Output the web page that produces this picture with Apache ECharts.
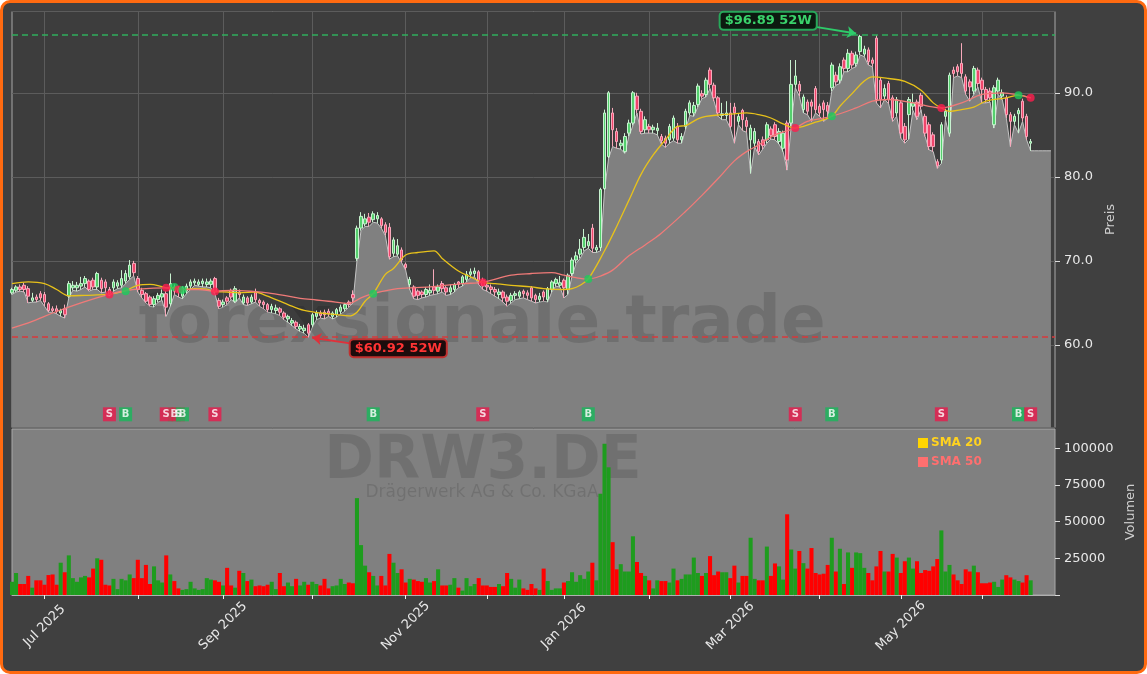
<!DOCTYPE html>
<html>
<head>
<meta charset="utf-8">
<title>DRW3.DE</title>
<script src="https://cdn.jsdelivr.net/npm/echarts@6/dist/echarts.min.js"></script>
<style>
  html, body { margin: 0; padding: 0; background: #ffffff; }
  #frame {
    position: absolute; left: 0; top: 0; width: 1147px; height: 674px;
    box-sizing: border-box; border: 3px solid #ff6a10; border-radius: 10px;
    background: #404040;
  }
  #chart { position: absolute; left: 0; top: 0; width: 1147px; height: 674px; }
</style>
</head>
<body>
<div id="frame"></div>
<div id="chart"></div>
<script>
// trading calendar (Xetra), first bar 19 Jun 2025
const firstDay = "2025-06-19";
const dayCount = 258;
const holidays = ["2025-12-24", "2025-12-25", "2025-12-26", "2025-12-31", "2026-01-01", "2026-04-03", "2026-04-06", "2026-05-01"];
const MONTHS = ["Jan", "Feb", "Mar", "Apr", "May", "Jun", "Jul", "Aug", "Sep", "Oct", "Nov", "Dec"];

const opens = [
  66.2, 66.5, 66.9, 67.1, 66.7, 65.3, 65.7, 66.1, 66.0, 64.9,
  64.3, 64.3, 63.8, 64.3, 65.8, 66.8, 66.8, 67.0, 67.3, 67.6,
  67.7, 66.9, 67.7, 67.5, 66.6, 66.8, 67.0, 67.1, 67.6, 68.1,
  69.7, 67.9, 66.5, 66.1, 65.7, 64.8, 65.4, 65.7, 66.1, 64.9,
  66.9, 66.7, 65.8, 66.4, 67.0, 67.4, 67.2, 67.3, 67.2, 67.2,
  67.9, 65.3, 64.8, 65.6, 66.5, 65.2, 66.3, 65.0, 65.6, 65.1,
  66.3, 65.3, 65.1, 64.8, 64.2, 64.1, 64.3, 63.8, 63.1, 62.6,
  62.7, 61.9, 61.7, 62.4, 62.4, 63.4, 63.8, 63.9, 64.0, 63.4,
  63.6, 64.0, 64.3, 65.1, 66.0, 70.3, 73.9, 74.4, 75.2, 74.9,
  75.0, 75.0, 74.3, 74.0, 70.9, 70.8, 71.3, 69.6, 67.2, 66.9,
  66.4, 66.3, 66.0, 66.2, 66.9, 66.4, 67.3, 66.8, 66.3, 66.6,
  67.5, 67.3, 67.8, 68.4, 68.5, 68.7, 67.7, 67.1, 66.9, 66.6,
  66.0, 66.3, 65.7, 65.3, 65.9, 65.8, 66.4, 66.2, 66.8, 65.9,
  65.4, 66.3, 65.4, 66.6, 67.3, 67.1, 67.7, 66.6, 68.5, 70.1,
  70.8, 71.6, 71.8, 73.9, 71.3, 71.6, 78.6, 82.4, 87.6, 85.4,
  83.7, 83.0, 85.2, 86.4, 89.6, 87.8, 85.6, 86.0, 85.6, 85.5,
  84.8, 84.6, 84.4, 84.6, 86.0, 84.4, 86.0, 87.6, 87.6, 88.6,
  89.9, 89.8, 92.7, 90.9, 89.4, 87.3, 87.3, 87.6, 88.3, 86.6,
  87.9, 86.7, 84.4, 84.0, 84.2, 84.4, 84.4, 85.7, 86.2, 84.2,
  83.4, 86.4, 86.4, 91.0, 91.0, 88.0, 88.9, 88.9, 90.5, 88.4,
  88.8, 88.5, 90.6, 92.1, 91.5, 93.9, 92.9, 94.7, 93.5, 94.9,
  94.6, 95.1, 93.9, 96.5, 91.5, 89.6, 91.1, 89.4, 87.6, 88.8,
  86.0, 87.4, 88.4, 88.9, 89.7, 87.2, 86.2, 85.0, 81.8, 82.0,
  87.2, 85.2, 92.7, 93.1, 93.5, 91.9, 91.3, 90.2, 92.7, 91.5,
  90.4, 90.2, 86.2, 90.2, 89.6, 89.4, 87.4, 86.6, 87.5, 89.0,
  87.2, 84.0
];
const closes = [
  66.6, 66.9, 66.6, 66.6, 65.8, 65.6, 65.4, 65.6, 65.1, 64.1,
  64.1, 64.0, 64.1, 63.6, 67.3, 67.1, 67.1, 67.3, 67.9, 66.6,
  66.9, 68.5, 66.7, 66.8, 66.0, 67.5, 67.4, 67.9, 68.5, 69.5,
  68.6, 66.6, 66.0, 65.2, 64.8, 65.5, 65.9, 66.1, 64.5, 67.3,
  66.4, 66.3, 66.8, 67.0, 67.5, 67.6, 67.5, 67.6, 67.5, 67.6,
  66.3, 64.6, 65.1, 65.2, 65.7, 66.7, 66.0, 65.7, 65.0, 65.7,
  65.4, 65.0, 64.8, 64.2, 64.6, 64.4, 63.9, 63.3, 63.4, 62.9,
  62.2, 62.2, 62.0, 61.4, 63.6, 63.8, 63.5, 63.6, 63.7, 63.8,
  64.2, 64.5, 64.8, 64.8, 65.6, 73.9, 75.3, 75.0, 74.6, 75.6,
  75.4, 74.2, 73.4, 70.5, 72.5, 71.8, 70.1, 69.2, 67.8, 65.8,
  65.9, 66.0, 66.6, 66.5, 66.5, 66.9, 66.7, 66.3, 66.8, 67.2,
  67.2, 68.1, 68.4, 68.7, 68.8, 67.6, 67.0, 66.9, 66.6, 66.3,
  66.3, 65.6, 65.2, 65.9, 66.1, 66.3, 66.1, 65.9, 65.6, 65.4,
  65.8, 65.7, 66.7, 67.5, 67.8, 67.4, 66.8, 68.3, 70.1, 70.6,
  71.4, 72.8, 72.3, 71.5, 71.6, 78.5, 87.6, 90.0, 85.6, 84.2,
  84.0, 84.8, 86.4, 90.0, 88.0, 85.4, 86.8, 85.6, 85.9, 85.8,
  84.3, 84.0, 86.0, 87.0, 84.4, 84.8, 87.8, 88.8, 88.5, 90.8,
  89.6, 91.5, 91.0, 89.4, 87.6, 87.5, 87.6, 86.0, 87.6, 87.2,
  86.8, 86.0, 85.8, 85.4, 83.0, 83.7, 86.2, 84.9, 84.8, 85.4,
  85.2, 82.0, 91.0, 92.0, 90.2, 89.5, 87.8, 88.4, 88.0, 87.6,
  88.0, 87.8, 93.3, 91.3, 93.1, 92.9, 94.7, 93.3, 94.5, 96.7,
  95.2, 93.7, 93.5, 89.2, 89.2, 90.5, 89.2, 87.0, 89.2, 85.2,
  84.4, 89.2, 88.8, 87.2, 88.4, 85.2, 83.6, 83.6, 81.3, 86.2,
  87.8, 92.1, 92.3, 92.5, 92.3, 90.2, 90.7, 92.9, 91.1, 90.4,
  89.2, 89.4, 90.6, 91.5, 90.0, 87.4, 86.6, 87.2, 87.9, 87.0,
  84.8, 84.2
];
const lows = [
  66.0, 66.3, 66.4, 66.3, 65.0, 65.1, 65.1, 65.3, 64.6, 63.9,
  63.9, 63.7, 63.4, 63.2, 65.6, 66.5, 66.4, 66.6, 66.9, 66.4,
  66.6, 66.6, 66.2, 66.3, 65.8, 66.4, 66.7, 66.8, 67.3, 67.8,
  68.2, 66.3, 65.6, 65.0, 64.6, 64.5, 65.1, 65.3, 63.4, 64.6,
  66.0, 65.7, 65.5, 66.1, 66.6, 67.1, 67.0, 66.9, 66.9, 66.8,
  66.1, 64.3, 64.5, 64.8, 65.4, 65.0, 65.6, 64.8, 64.7, 64.9,
  65.1, 64.6, 64.3, 63.9, 63.8, 63.7, 63.5, 63.0, 62.7, 62.3,
  61.9, 61.6, 61.4, 60.92, 62.1, 63.0, 63.2, 63.1, 63.4, 63.1,
  63.3, 63.7, 64.0, 64.5, 65.0, 70.0, 73.6, 74.1, 74.1, 74.6,
  74.5, 73.9, 73.0, 70.2, 70.5, 70.6, 69.8, 68.9, 66.6, 65.5,
  65.4, 65.6, 65.7, 65.9, 66.0, 66.1, 66.3, 65.9, 66.0, 66.3,
  66.8, 67.0, 67.5, 68.0, 68.1, 67.2, 66.6, 66.4, 66.1, 65.8,
  65.5, 65.1, 64.6, 65.0, 65.4, 65.5, 65.6, 65.4, 65.2, 65.0,
  65.1, 65.2, 65.1, 66.3, 67.0, 66.9, 65.6, 66.0, 68.2, 69.7,
  70.3, 71.2, 71.5, 71.0, 71.0, 71.2, 78.4, 82.2, 83.6, 83.4,
  83.3, 82.8, 84.8, 86.1, 87.6, 85.1, 85.2, 85.2, 85.2, 85.0,
  83.9, 83.5, 84.0, 84.3, 84.0, 84.0, 85.7, 87.3, 87.2, 88.3,
  89.3, 89.5, 90.5, 89.0, 87.2, 86.8, 86.8, 85.8, 84.0, 86.2,
  85.5, 85.3, 80.4, 83.6, 82.6, 83.3, 84.0, 84.5, 84.4, 83.9,
  83.0, 80.8, 86.0, 90.6, 89.6, 87.6, 87.4, 86.6, 87.6, 87.2,
  86.6, 87.0, 90.2, 90.9, 91.1, 92.5, 92.5, 92.9, 93.1, 94.5,
  94.3, 93.3, 93.1, 88.8, 88.2, 89.2, 88.7, 86.6, 87.2, 84.6,
  84.0, 84.5, 87.9, 86.8, 88.0, 84.8, 83.2, 83.0, 81.0, 81.6,
  86.8, 84.8, 91.8, 92.0, 91.8, 89.8, 89.0, 89.8, 90.7, 88.8,
  88.8, 88.9, 85.8, 89.8, 89.2, 87.0, 83.6, 86.2, 85.2, 86.6,
  84.4, 83.1
];
const highs = [
  66.8, 67.1, 67.2, 67.4, 67.0, 66.2, 66.0, 66.4, 66.3, 65.1,
  64.6, 64.7, 64.3, 64.8, 67.6, 67.6, 67.5, 68.1, 68.2, 67.8,
  68.0, 68.7, 68.0, 67.8, 66.9, 67.8, 67.7, 68.9, 68.9, 70.1,
  70.0, 68.2, 66.8, 66.3, 65.9, 65.8, 66.2, 66.6, 66.4, 68.5,
  67.2, 67.0, 67.0, 67.3, 67.8, 67.9, 67.8, 67.9, 67.9, 67.9,
  68.1, 65.6, 65.4, 65.8, 66.7, 67.0, 66.6, 66.0, 65.8, 66.0,
  66.7, 65.5, 65.3, 65.0, 64.9, 64.8, 64.5, 64.0, 63.6, 63.2,
  62.9, 62.5, 62.4, 62.6, 63.8, 64.1, 64.1, 64.2, 64.3, 64.0,
  64.4, 64.8, 65.0, 65.3, 66.5, 74.2, 75.8, 75.6, 75.7, 75.9,
  75.8, 75.2, 74.6, 74.5, 72.8, 72.6, 71.6, 69.8, 68.1, 67.1,
  66.6, 66.5, 66.9, 67.2, 69.0, 67.2, 67.6, 67.0, 67.2, 67.4,
  67.6, 68.3, 68.8, 69.1, 69.2, 68.9, 68.0, 67.3, 67.2, 66.9,
  66.7, 66.5, 66.0, 66.2, 66.4, 66.5, 66.6, 66.5, 67.0, 66.1,
  66.2, 66.5, 66.9, 67.7, 68.0, 68.2, 67.9, 68.5, 70.4, 71.1,
  72.6, 73.8, 73.2, 74.4, 71.9, 78.7, 88.0, 90.2, 88.2, 85.8,
  84.4, 85.2, 86.8, 90.2, 90.0, 88.1, 87.2, 86.3, 86.2, 86.4,
  85.1, 84.9, 86.3, 87.3, 86.4, 85.2, 88.1, 89.1, 88.9, 91.1,
  90.3, 91.8, 93.0, 91.2, 89.6, 88.8, 89.0, 88.8, 88.8, 87.6,
  88.1, 87.1, 86.2, 85.8, 84.5, 84.8, 86.5, 86.0, 86.5, 85.8,
  85.5, 86.7, 93.9, 93.9, 91.4, 89.8, 89.2, 89.2, 90.8, 88.7,
  89.1, 88.9, 93.6, 92.5, 93.5, 94.2, 95.2, 95.0, 94.9, 96.89,
  95.6, 95.4, 94.2, 96.85, 91.8, 91.0, 91.4, 89.7, 89.5, 89.1,
  86.4, 89.5, 89.9, 89.2, 90.0, 87.5, 86.5, 85.3, 82.1, 86.5,
  88.1, 92.4, 93.1, 93.4, 95.9, 92.2, 91.6, 93.2, 93.0, 91.8,
  90.7, 90.6, 90.9, 91.8, 90.4, 89.7, 87.7, 87.5, 88.2, 89.3,
  87.5, 84.5
];
// the shaded low band keeps running flat after the last bar
const lowsTail = [83.1, 83.1, 83.1, 83.1, 83.1];

const volumes = [
  9000, 15000, 7500, 7500, 13000, 5000, 10000, 10000, 7000, 13600,
  14000, 7000, 22000, 15500, 27000, 11500, 9000, 12000, 13000, 12000,
  18000, 25000, 24000, 7000, 6500, 11000, 4000, 11000, 10000, 14000,
  11500, 24000, 11500, 20500, 7500, 19500, 10000, 8500, 27000, 14000,
  9500, 4500, 3500, 4000, 9000, 4500, 3500, 4000, 11500, 10500,
  10000, 9000, 6500, 18500, 6500, 5000, 16500, 15000, 9500, 10500,
  6000, 6500, 6000, 7000, 9000, 4000, 15000, 6000, 8500, 6000,
  11000, 6500, 9000, 7000, 9000, 7500, 6500, 11000, 4500, 6000,
  6500, 11000, 7500, 8500, 8000, 66000, 34000, 20000, 15500, 13000,
  6500, 13000, 6500, 28000, 22000, 15000, 17500, 8500, 11000, 10500,
  9500, 9000, 11500, 8500, 9500, 17500, 6500, 6500, 7000, 11500,
  5000, 3000, 11500, 6000, 7500, 11500, 6500, 6500, 5500, 5500,
  7500, 6000, 15000, 11000, 5000, 10500, 4500, 3500, 7500, 4500,
  3500, 18000, 9500, 3500, 4500, 4500, 8500, 9500, 15500, 9000,
  13500, 11000, 16000, 22000, 10000, 69000, 103000, 87000, 36000, 17500,
  21000, 16000, 16000, 40000, 22500, 15000, 13000, 10000, 4500, 10000,
  9500, 9500, 8500, 18000, 10000, 11000, 14000, 14000, 25500, 15000,
  13000, 15000, 26500, 13500, 16000, 15500, 15500, 11500, 20000, 8500,
  13000, 13000, 39000, 11000, 10000, 10000, 33000, 13000, 21500, 19500,
  10500, 55000, 31000, 18000, 30000, 21700, 18000, 32000, 15000, 14000,
  14500, 20500, 39000, 16000, 31500, 7500, 29000, 18500, 29000, 28500,
  18500, 15000, 10000, 19500, 30000, 16000, 16000, 28000, 25500, 15000,
  23000, 25500, 18000, 23000, 15000, 17000, 16500, 19500, 24500, 44000,
  16000, 20500, 14000, 10000, 7500, 17500, 16000, 20000, 15500, 8000,
  8000, 8500, 9000, 5500, 10500, 13500, 12000, 10500, 9500, 8500,
  13500, 10000
];

// moving averages at these bar positions
const sma20Days = [0, 4, 8, 11, 14, 18, 21, 24, 26, 28, 31, 34, 37, 38, 40, 41, 42, 45, 48, 50,
  53, 56, 60, 62, 64, 68, 72, 76, 80, 83, 85, 87, 89, 92, 94, 97, 100, 104, 106, 110,
  113, 116, 119, 123, 128, 131, 136, 138, 140, 142, 146, 149, 152, 155, 158, 161, 164, 166, 169, 171,
  175, 178, 181, 184, 187, 190, 193, 195, 198, 202, 204, 207, 210, 212, 216, 220, 224, 227, 229, 231,
  234, 237, 240, 245, 248, 251];
const sma20 = [67.3, 67.5, 67.3, 66.6, 65.85, 65.9, 65.95, 66.05, 66.2, 66.45, 67.1, 67.2, 66.95, 66.8, 66.85, 66.65, 66.6, 66.7, 66.65, 66.35,
  66.3, 66.2, 66.3, 66.0, 65.6, 64.8, 64.1, 63.8, 63.6, 63.45, 63.9, 65.2, 66.1, 68.4, 69.1, 70.7, 71.0, 71.2, 70.3, 68.8,
  68.1, 67.45, 67.3, 67.1, 66.9, 66.7, 66.6, 66.7, 67.1, 67.85, 71.2, 74.1, 77.2, 80.3, 82.6, 84.4, 86.0, 86.1, 86.9, 87.2,
  87.4, 87.5, 87.6, 87.4, 87.0, 86.3, 85.8, 86.0, 86.5, 87.2, 88.4, 89.9, 91.4, 91.9, 91.7, 91.35, 90.3, 88.8, 88.2, 87.8,
  88.0, 88.3, 89.0, 89.4, 89.7, 89.4];
const sma50Days = [0, 5, 10, 17, 24, 28, 31, 38, 42, 46, 50, 54, 60, 63, 67, 71, 75, 78, 83, 86,
  89, 95, 103, 111, 116, 123, 128, 133, 136, 139, 142, 145, 148, 152, 156, 160, 166, 170, 174, 178,
  181, 184, 188, 193, 196, 202, 208, 212, 216, 222, 229, 234, 239, 244, 248, 251];
const sma50 = [62.0, 62.8, 63.8, 65.0, 66.05, 66.45, 66.65, 66.8, 66.6, 66.6, 66.4, 66.5, 66.35, 66.2, 65.9, 65.55, 65.35, 65.2, 64.95, 65.6,
  66.1, 66.7, 66.9, 67.3, 67.45, 68.3, 68.5, 68.6, 68.3, 68.0, 67.85, 68.2, 68.9, 70.6, 71.9, 73.3, 75.9, 77.8, 79.8, 81.9,
  83.0, 83.8, 85.0, 85.8, 86.6, 87.2, 88.2, 89.0, 89.2, 88.8, 88.2, 88.8, 89.8, 90.0, 89.75, 89.4];

// SMA crossings: bar, kind, price of the dot
const signalDays = [24, 28, 38, 40, 41, 42, 50, 89, 116, 142, 193, 202, 229, 248, 251];
const signalKinds = ["S", "B", "S", "B", "S", "B", "S", "B", "S", "B", "S", "B", "S", "B", "S"];
const signalPrices = [66.0, 66.4, 66.8, 66.9, 66.6, 66.55, 66.35, 66.1, 67.45, 67.85, 85.8, 87.2, 88.2, 89.7, 89.4];

function tradingDays(first, count) {
  const out = [];
  const d = new Date(first + "T12:00:00Z");
  while (out.length < count) {
    const iso = d.toISOString().slice(0, 10);
    const wd = d.getUTCDay();
    if (wd !== 0 && wd !== 6 && !holidays.includes(iso)) out.push(iso);
    d.setUTCDate(d.getUTCDate() + 1);
  }
  return out;
}

const dates = tradingDays(firstDay, dayCount);
const monthStart = dates.map((d, i) => i > 0 && d.slice(5, 7) !== dates[i - 1].slice(5, 7));
const labelled = dates.map((d, i) => monthStart[i] && Number(d.slice(5, 7)) % 2 === 1);

const UP = "#1e9c1e";
const DOWN = "#ff0000";
const FONT = "DejaVu Sans";

const high52 = Math.max(...highs);
const low52 = Math.min(...lows);
const hiIdx = highs.indexOf(high52);
const loIdx = lows.indexOf(low52);
const signalRow = 51.75; // row of B/S boxes near the bottom of the price panel

const ohlc = opens.map((o, i) => [o, closes[i], lows[i], highs[i]]);
const volumeBars = volumes.map((v, i) => ({
  value: v,
  itemStyle: { color: closes[i] >= opens[i] ? UP : DOWN }
}));

// crowded boxes first, so the isolated ones end up on top
const crowd = signalDays.map((d) => signalDays.filter((e) => Math.abs(e - d) <= 3).length);
const signalOrder = signalDays.map((d, k) => k).sort((a, b) => crowd[b] - crowd[a] || a - b);

const chart = echarts.init(document.getElementById("chart"));

chart.setOption({
  animation: false,
  backgroundColor: "transparent",
  textStyle: { fontFamily: FONT },
  legend: {
    orient: "vertical",
    left: 913,
    top: 432,
    itemWidth: 10,
    itemHeight: 10,
    itemGap: 7,
    icon: "rect",
    data: [
      { name: "SMA 20", itemStyle: { color: "#ffd500" }, textStyle: { color: "#ffd21f" } },
      { name: "SMA 50", itemStyle: { color: "#ff6f6f" }, textStyle: { color: "#ff6f6f" } }
    ],
    textStyle: { fontFamily: FONT, fontWeight: "bold", fontSize: 12, padding: [0, 0, 0, -2] }
  },
  graphic: [
    {
      type: "text", x: 482, y: 325, z: 2, silent: true,
      style: { text: "forexsignale.trade", font: 'bold 66px "DejaVu Sans"', fill: "rgba(0,0,0,0.13)", align: "center", verticalAlign: "middle" }
    },
    {
      type: "text", x: 483, y: 462, z: 2, silent: true,
      style: { text: "DRW3.DE", font: 'bold 60px "DejaVu Sans"', fill: "rgba(0,0,0,0.12)", align: "center", verticalAlign: "middle" }
    },
    {
      type: "text", x: 482, y: 493, z: 2, silent: true,
      style: { text: "Drägerwerk AG & Co. KGaA", font: '17px "DejaVu Sans"', fill: "rgba(0,0,0,0.12)", align: "center", verticalAlign: "middle" }
    }
  ],
  grid: [
    { left: 12, right: 92, top: 11.5, height: 416, show: true, backgroundColor: "#3d3d3d", borderColor: "#a8a8a8", borderWidth: 1 },
    { left: 12, right: 92, top: 429, height: 166, show: true, backgroundColor: "#808080", borderColor: "#a8a8a8", borderWidth: 1 }
  ],
  xAxis: [
    {
      type: "category", gridIndex: 0, data: dates, boundaryGap: false,
      axisLine: { show: false }, axisTick: { show: false }, axisLabel: { show: false },
      splitLine: { show: true, interval: (i) => monthStart[i], lineStyle: { color: "#5c5c5c", width: 1 } }
    },
    {
      type: "category", gridIndex: 1, data: dates, boundaryGap: false,
      axisLine: { show: true, lineStyle: { color: "#b0b0b0" } },
      axisTick: { show: true, interval: (i) => monthStart[i], length: 4, lineStyle: { color: "#f0f0f0" } },
      axisLabel: {
        interval: (i) => labelled[i], rotate: 45, margin: 31, align: "center", verticalAlign: "middle",
        color: "#e8e8e8", fontSize: 13, fontFamily: FONT,
        formatter: (v) => MONTHS[Number(v.slice(5, 7)) - 1] + " " + v.slice(0, 4)
      },
      splitLine: { show: false }
    }
  ],
  yAxis: [
    {
      type: "value", gridIndex: 0, position: "right", min: 50.18, max: 99.67, splitNumber: 5,
      axisLine: { show: false },
      axisTick: { show: true, length: 5, lineStyle: { color: "#dddddd" } },
      axisLabel: { color: "#e8e8e8", fontSize: 13, fontFamily: FONT, margin: 9, showMinLabel: false, showMaxLabel: false, formatter: (v) => v.toFixed(1) },
      splitLine: { show: true, lineStyle: { color: "#5c5c5c", width: 1 } },
      name: "Preis", nameLocation: "middle", nameRotate: 90, nameGap: 42,
      nameTextStyle: { color: "#cfcfcf", fontSize: 13, fontFamily: FONT }
    },
    {
      type: "value", gridIndex: 1, position: "right", min: 0, max: 113100, interval: 25000,
      axisLine: { show: false },
      axisTick: { show: true, length: 5, lineStyle: { color: "#dddddd" } },
      axisLabel: { color: "#e8e8e8", fontSize: 13, fontFamily: FONT, margin: 9, showMaxLabel: false, formatter: (v) => (v === 0 ? "" : String(v)) },
      splitLine: { show: false },
      name: "Volumen", nameLocation: "middle", nameRotate: 90, nameGap: 63,
      nameTextStyle: { color: "#cfcfcf", fontSize: 13, fontFamily: FONT }
    }
  ],
  series: [
    {
      name: "Low",
      type: "line",
      xAxisIndex: 0, yAxisIndex: 0,
      data: lows.concat(lowsTail),
      symbol: "none",
      z: 1,
      lineStyle: { color: "#c4c4c4", width: 1 },
      areaStyle: { color: "#808080", opacity: 1, origin: "start" }
    },
    {
      name: "Kurs",
      type: "candlestick",
      xAxisIndex: 0, yAxisIndex: 0,
      data: ohlc,
      barWidth: 3,
      z: 3,
      itemStyle: {
        color: "#55d06e", color0: "#f0456b",
        borderColor: "#c8f2d0", borderColor0: "#f7a9bb", borderWidth: 1
      },
      markLine: {
        silent: true,
        symbol: ["none", "none"],
        label: { show: false },
        data: [
          { yAxis: high52, lineStyle: { color: "#2fae5c", type: [6, 4], width: 1.6 } },
          { yAxis: low52, lineStyle: { color: "#d8393b", type: [6, 4], width: 1.6 } },
          [
            { coord: [hiIdx - 11.5, high52 + 0.95], symbol: "none", lineStyle: { color: "#2ecc6a", width: 2, type: "solid" } },
            { coord: [hiIdx - 0.7, high52 + 0.15], symbol: "arrow", symbolSize: 9, lineStyle: { color: "#2ecc6a", width: 2, type: "solid" } }
          ],
          [
            { coord: [loIdx + 11.5, low52 - 0.85], symbol: "none", lineStyle: { color: "#e0303a", width: 2, type: "solid" } },
            { coord: [loIdx + 1, low52 - 0.05], symbol: "arrow", symbolSize: 9, lineStyle: { color: "#e0303a", width: 2, type: "solid" } }
          ]
        ]
      },
      markPoint: {
        silent: true,
        symbol: "circle",
        symbolSize: 0,
        data: [
          {
            coord: [hiIdx, high52],
            label: {
              show: true, formatter: "$" + high52.toFixed(2) + " 52W", offset: [-92, -14],
              color: "#3ad36b", fontWeight: "bold", fontSize: 13, fontFamily: FONT,
              backgroundColor: "#0c1a10", borderColor: "#27a85a", borderWidth: 2, borderRadius: 3, padding: [2, 4, 1, 4]
            }
          },
          {
            coord: [loIdx, low52],
            label: {
              show: true, formatter: "$" + low52.toFixed(2) + " 52W", offset: [90, 11],
              color: "#ff3434", fontWeight: "bold", fontSize: 13, fontFamily: FONT,
              backgroundColor: "#1c0c0c", borderColor: "#c0302f", borderWidth: 2, borderRadius: 3, padding: [2, 4, 1, 4]
            }
          }
        ]
      }
    },
    {
      name: "SMA 20",
      type: "line",
      xAxisIndex: 0, yAxisIndex: 0,
      data: sma20Days.map((d, k) => [d, sma20[k]]),
      smooth: 0.35,
      symbol: "none",
      z: 4,
      color: "#ffd500",
      lineStyle: { color: "#e8c21a", width: 1.3 }
    },
    {
      name: "SMA 50",
      type: "line",
      xAxisIndex: 0, yAxisIndex: 0,
      data: sma50Days.map((d, k) => [d, sma50[k]]),
      smooth: 0.35,
      symbol: "none",
      z: 4,
      color: "#ff6f6f",
      lineStyle: { color: "#f07a78", width: 1.3 }
    },
    {
      name: "Kreuzung",
      type: "scatter",
      xAxisIndex: 0, yAxisIndex: 0,
      symbolSize: 8,
      z: 5,
      data: signalDays.map((d, k) => ({
        value: [d, signalPrices[k]],
        itemStyle: { color: signalKinds[k] === "B" ? "#1ccc5a" : "#ff1d4d" }
      }))
    },
    {
      name: "Signal",
      type: "scatter",
      xAxisIndex: 0, yAxisIndex: 0,
      symbol: "rect",
      symbolSize: [13, 14],
      z: 6,
      data: signalOrder.map((k) => ({
        value: [signalDays[k], signalRow],
        itemStyle: { color: signalKinds[k] === "B" ? "#16b85a" : "#e8194b" },
        label: { formatter: signalKinds[k] }
      })),
      label: { show: true, position: "inside", color: "#ffffff", fontWeight: "bold", fontSize: 10, fontFamily: FONT }
    },
    {
      name: "Volumen",
      type: "bar",
      xAxisIndex: 1, yAxisIndex: 1,
      data: volumeBars,
      barCategoryGap: "0%",
      z: 3
    }
  ]
});
</script>
</body>
</html>
